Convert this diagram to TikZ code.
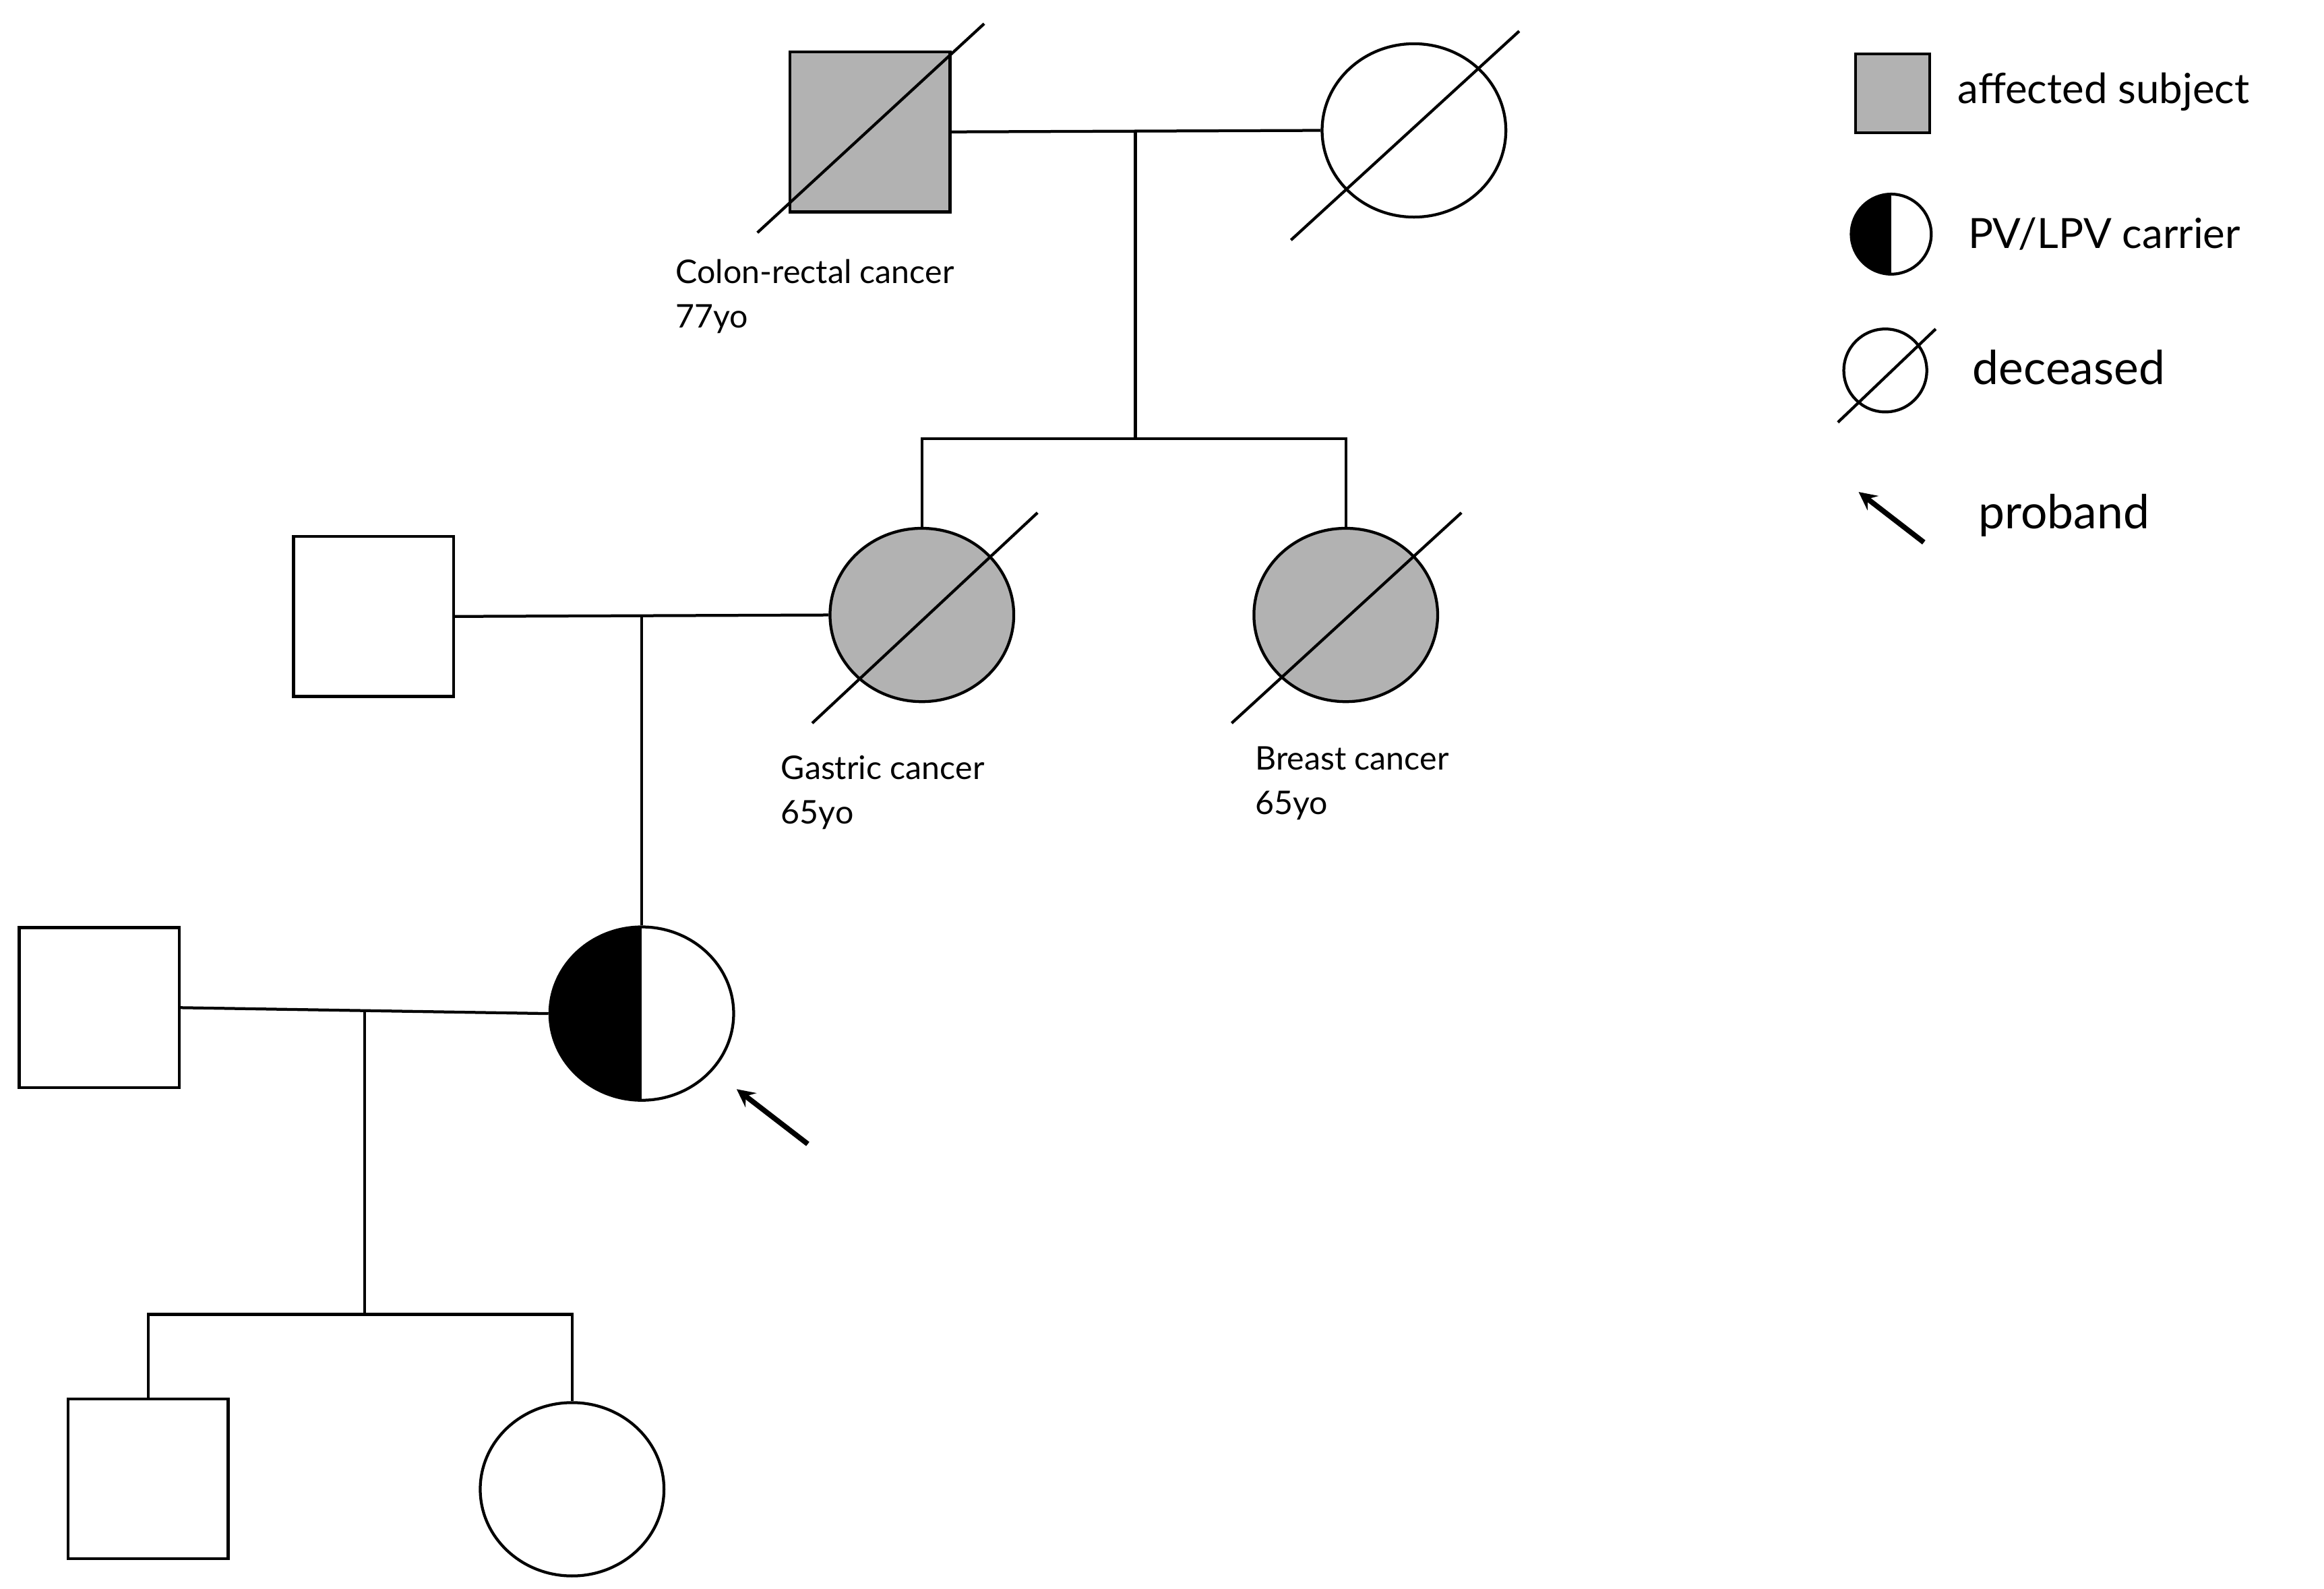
\documentclass[tikz,border=0pt]{standalone}
\usepackage{fontspec}
\setmainfont{Lato}
\usetikzlibrary{shapes.geometric}
\tikzstyle{male}=[draw,rectangle,minimum size=2.16cm,inner sep=0pt,line width=1.1pt]
\tikzstyle{female}=[draw,ellipse,minimum width=2.48cm,minimum height=2.34cm,inner sep=0pt,line width=1.1pt]
\tikzstyle{affected}=[fill=gray!60]
\tikzstyle{carrier}=[path picture={\fill[black] (path picture bounding box.south west) rectangle (path picture bounding box.north);}]
\tikzstyle{label}=[anchor=north west,inner sep=0pt,align=left,font=\fontsize{12.5}{17}\selectfont]
\tikzstyle{legend}=[anchor=west,inner sep=0pt,font=\fontsize{16}{18}\selectfont]

\begin{document}
\begin{tikzpicture}[x=0.02cm,y=-0.02cm,line width=1.1pt]
      \useasboundingbox (0,0) rectangle (1568,1072);

      % first generation
      \node[male,affected] (gf) at (587,89) {};
      \node[female] (gm) at (954,88) {};
      \draw (511,157) -- (664,16);
      \draw (871,162) -- (1025,21);
      \node[label] (gfl) at (455,174) {Colon-rectal cancer\\77yo};
      \draw (gf.east) -- (gm.west);
      \coordinate (c1) at (766,89);
      \coordinate (s1) at (766,296);
      \draw (c1) -- (s1);

      % second generation
      \node[female,affected] (d1) at (622,415) {};
      \node[female,affected] (d2) at (908,415) {};
      \draw (548,488) -- (700,346);
      \draw (831,488) -- (986,346);
      \node[label] (d1l) at (526,509) {Gastric cancer\\65yo};
      \node[label] (d2l) at (846,503) {Breast cancer\\65yo};
      \draw (d1.north) |- (s1) -| (d2.north);
      \node[male] (h1) at (252,416) {};
      \draw (h1.east) -- (d1.west);
      \coordinate (c2) at (433,416);

      % third generation
      \node[female,carrier] (pb) at (433,684) {};
      \draw (c2) -- (pb.north);
      \draw[-stealth,line width=2pt] (545,772) -- (497,735);
      \node[male] (h2) at (67,680) {};
      \draw (h2.east) -- (pb.west);
      \coordinate (c3) at (246,682);
      \coordinate (s3) at (246,887);
      \draw (c3) -- (s3);

      % fourth generation
      \node[male] (g1) at (100,998) {};
      \node[female] (g2) at (386,1005) {};
      \draw (g1.north) |- (s3) -| (g2.north);

      % legend
      \node[draw,rectangle,affected,minimum width=1cm,minimum height=1.06cm,inner sep=0pt] (la) at (1277,63) {};
      \node[legend] at (1320,62) {affected subject};
      \node[draw,circle,carrier,minimum size=1.08cm,inner sep=0pt] (lc) at (1276,158) {};
      \node[legend] at (1327,158) {PV/LPV carrier};
      \node[draw,circle,minimum size=1.12cm,inner sep=0pt] (ld) at (1272,250) {};
      \draw (1240,285) -- (1306,222);
      \node[legend,font=\fontsize{18}{20}\selectfont] at (1330,248) {deceased};
      \draw[-stealth,line width=2pt] (1298,366) -- (1254,332);
      \node[legend,font=\fontsize{18}{20}\selectfont] at (1334,348) {proband};
\end{tikzpicture}
\end{document}
